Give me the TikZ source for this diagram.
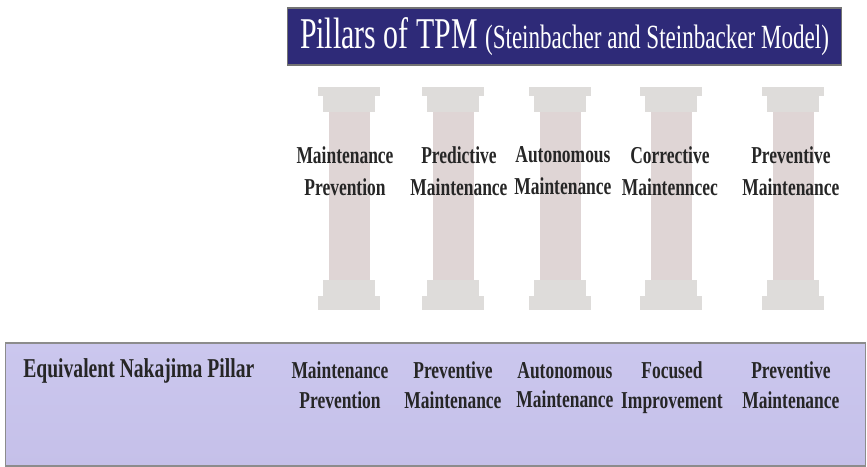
\documentclass[tikz,border=0pt]{standalone}
\usepackage{fontspec}
\setmainfont{Liberation Serif}
\newfontfamily\headfont{Liberation Serif}[FakeStretch=0.68]
\newfontfamily\narrowfont{Liberation Serif}[FakeStretch=0.72]
\usepackage{xcolor}
\usepackage{tikz}
\definecolor{tpmnavy}{RGB}{46,42,120}
\definecolor{lavtop}{RGB}{203,199,238}
\definecolor{lavbot}{RGB}{197,192,233}
\definecolor{shaft}{RGB}{223,213,213}
\definecolor{capital}{RGB}{222,220,218}
\tikzstyle{pillarlabel} = [align=center, inner sep=0pt, text=black!85,
	execute at begin node=\strut, execute at end node=\strut,
	font=\narrowfont\bfseries\fontsize{13.8}{18.2}\selectfont]
\tikzstyle{nakalabel} = [pillarlabel, font=\narrowfont\bfseries\fontsize{13.8}{17}\selectfont]

% column drawn around centre x (pixel units)
\newcommand{\drawpillar}[1]{%
	\fill[capital] (#1-31,87) rectangle (#1+31,96);
	\fill[capital] (#1-26,96) rectangle (#1+26,112);
	\fill[shaft] (#1-20.5,112) rectangle (#1+20.5,281);
	\fill[capital] (#1-26,280) rectangle (#1+26,296);
	\fill[capital] (#1-31,296) rectangle (#1+31,310);
}

\begin{document}
\begin{tikzpicture}[x=0.02cm, y=-0.02cm, node distance=2cm]
		\useasboundingbox (0,0) rectangle (867,467);

		% heading bar
		\node (title) [fill=tpmnavy, draw=black!55, line width=0.6pt, minimum width=11.1cm, minimum height=1.14cm, text=white] at (564.5,36.5)
			{\headfont\fontsize{25}{25}\selectfont Pillars of TPM {\fontsize{19.3}{19.3}\selectfont(Steinbacher and Steinbacker Model)}};

		% the five columns
		\drawpillar{349}
		\drawpillar{453}
		\drawpillar{560}
		\drawpillar{671}
		\drawpillar{793}

		\node (1top) [pillarlabel] at (345,175.5) {Maintenance\\Prevention};
		\node (2top) [pillarlabel, right of=1top, xshift=0.28cm] {Predictive\\Maintenance};
		\node (3top) [pillarlabel, right of=2top, xshift=0.08cm] {Autonomous\\Maintenance};
		\node (4top) [pillarlabel, right of=3top, xshift=0.14cm] {Corrective\\Maintenncec};
		\node (5top) [pillarlabel, right of=4top, xshift=0.42cm] {Preventive\\Maintenance};

		% Nakajima row
		\node (naka) [draw=black!45, line width=1pt, top color=lavtop, bottom color=lavbot, minimum width=17.2cm, minimum height=2.46cm] at (435.5,404.5) {};
		\node (nakatitle) [pillarlabel, anchor=west, font=\narrowfont\bfseries\fontsize{15.5}{17}\selectfont] at (23,372) {Equivalent Nakajima Pillar};

		\node (1bot) [nakalabel] at (340,389.5) {Maintenance\\Prevention};
		\node (2bot) [nakalabel, right of=1bot, xshift=0.26cm] {Preventive\\Maintenance};
		\node (3bot) [nakalabel, right of=2bot, xshift=0.24cm] {Autonomous\\Maintenance};
		\node (4bot) [nakalabel, right of=3bot, xshift=0.14cm] {Focused\\Improvement};
		\node (5bot) [nakalabel, right of=4bot, xshift=0.38cm] {Preventive\\Maintenance};
	\end{tikzpicture}
\end{document}
